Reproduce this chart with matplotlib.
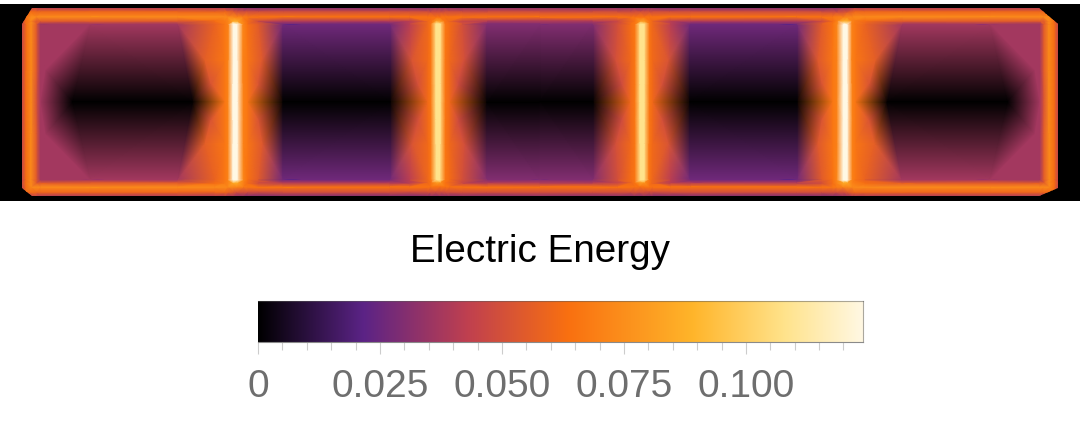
import matplotlib
matplotlib.use("Agg")
import matplotlib.pyplot as plt
import numpy as np
from matplotlib.colors import LinearSegmentedColormap
from matplotlib.patches import Polygon

plt.rcParams['font.family'] = ['Liberation Sans', 'DejaVu Sans']

# Field. The colours blend straight between mesh nodes,
# so the nodes are kept sparse, like in the original mesh.
# Only the top left quarter is listed, the rest is mirrored.

# rim nodes: one row per x position, one value per y in rim_y
rim_y = [8, 12, 17, 21, 24]
rim_x = [22, 26, 31, 36, 40, 90, 178, 215, 225, 228, 233, 237, 243, 247, 258, 283,
         390, 410, 428, 431, 436, 440, 445, 449, 462, 487, 540]
rim_v = [
    [.040, .042, .045, .045, .045],
    [.042, .060, .062, .062, .062],
    [.045, .062, .073, .073, .073],
    [.045, .060, .073, .055, .055],
    [.040, .060, .073, .055, .037],
    [.040, .060, .073, .055, .037],
    [.040, .060, .073, .055, .037],
    [.040, .060, .073, .062, .058],
    [.040, .060, .073, .068, .066],
    [.038, .058, .072, .070, .070],
    [.036, .054, .072, .085, .124],
    [.034, .050, .070, .085, .124],
    [.032, .050, .068, .070, .072],
    [.030, .050, .066, .062, .064],
    [.030, .050, .065, .048, .055],
    [.030, .050, .065, .040, .026],
    [.030, .050, .064, .040, .026],
    [.030, .050, .064, .042, .042],
    [.030, .050, .064, .060, .060],
    [.032, .050, .064, .064, .066],
    [.032, .050, .064, .078, .108],
    [.032, .050, .064, .078, .108],
    [.032, .050, .064, .064, .066],
    [.032, .050, .064, .060, .062],
    [.032, .050, .064, .046, .050],
    [.032, .050, .064, .040, .030],
    [.032, .050, .064, .040, .030],
]

# wall columns: same value all the way down, at each y in wall_y
wall_y = [60, 84, 102]
wall_x = [225, 228, 233, 237, 243, 247, 428, 431, 436, 440, 445, 449]
wall_v = [.066, .070, .124, .124, .070, .066, .061, .066, .108, .108, .066, .061]

# other nodes below the rim
inner_x = [22, 22, 26, 26, 31, 31, 36, 36, 40, 45, 40, 72,
           193, 205, 211, 262, 258, 283, 390, 412, 418, 464, 458, 487, 540]
inner_y = [70, 102, 70, 102, 70, 102, 70, 102, 70, 70, 102, 102,
           102, 60, 84, 60, 84, 102, 102, 60, 84, 60, 84, 102, 102]
inner_v = [.045, .045, .062, .062, .073, .073, .055, .052, .037, .037, .037, .000,
           .000, .056, .052, .054, .052, .000, .000, .052, .050, .050, .048, .000, .000]

outline_x = [32, 1039, 1058, 1058, 1039, 32, 22, 22]
outline_y = [8, 8, 24, 188, 196, 196, 188, 24]

# Colour scale
energy_max = 0.124
scale_values = [0, .0215, .043, .0635, .089, .108, .124]
scale_colors = ['#000000', '#5b2386', '#c0404f', '#f97010', '#ffb52a', '#ffe38c', '#fff8e4']
major_ticks = [0, .025, .05, .075, .1]
major_labels = ['0', '0.025', '0.050', '0.075', '0.100']
minor_ticks = np.arange(0, 0.1201, 0.005)

cmap = LinearSegmentedColormap.from_list(
    'energy', [(v / energy_max, c) for v, c in zip(scale_values, scale_colors)], N=512)

# Mirror the quarter into the whole field
xq = np.array([x for x in rim_x for _ in rim_y] + [x for x in wall_x for _ in wall_y] + inner_x, dtype=float)
yq = np.array(rim_y * len(rim_x) + wall_y * len(wall_x) + inner_y, dtype=float)
vq = np.concatenate([np.array(rim_v).ravel(), np.repeat(wall_v, len(wall_y)), inner_v])

xs = np.concatenate([xq, 1080 - xq, xq, 1080 - xq])
ys = np.concatenate([yq, yq, 204 - yq, 204 - yq])
vs = np.concatenate([vq, vq, vq, vq])
_, keep = np.unique(np.column_stack([xs, ys]), axis=0, return_index=True)
xs, ys, vs = xs[keep], ys[keep], vs[keep]

W, H = 1080, 442
fig = plt.figure(figsize=(W / 100, H / 100), dpi=100)

ax = fig.add_axes([0, 1 - 201 / H, 1, 197 / H])
ax.set_facecolor('black')
ax.set_xlim(0, 1080)
ax.set_ylim(201, 4)
ax.set_xticks([])
ax.set_yticks([])
for s in ax.spines.values():
    s.set_visible(False)

field = ax.tripcolor(xs, ys, vs, shading='gouraud', cmap=cmap, vmin=0, vmax=energy_max)
outline = Polygon(np.column_stack([outline_x, outline_y]), closed=True,
                  transform=ax.transData, facecolor='none', edgecolor='none')
ax.add_patch(outline)
field.set_clip_path(outline)

# Colour bar
cax = fig.add_axes([258 / W, 1 - 342 / H, 605 / W, 41 / H])
gradient = np.linspace(0, energy_max, 512).reshape(1, -1)
cax.imshow(gradient, extent=[0, energy_max, 0, 1], aspect='auto', cmap=cmap,
           vmin=0, vmax=energy_max, interpolation='bilinear')
cax.set_xlim(0, energy_max)
cax.set_yticks([])
cax.set_xticks(major_ticks)
cax.set_xticklabels(major_labels, fontsize=28, color='#6e6e6e')
cax.set_xticks(minor_ticks, minor=True)
cax.tick_params(axis='x', which='major', length=8.6, width=0.8, color='#cccccc', pad=10.5)
cax.tick_params(axis='x', which='minor', length=5.5, width=0.8, color='#cccccc')
cax.spines['left'].set_visible(False)
cax.spines['top'].set_edgecolor((0.35, 0.35, 0.35, 0.5))
cax.spines['right'].set_edgecolor((0.35, 0.35, 0.35, 0.5))
cax.spines['bottom'].set_edgecolor('#8a8a8a')

fig.text(540 / W, 1 - 252 / H, 'Electric Energy', fontsize=27.8, color='black',
         ha='center', va='center')

fig.savefig('out.png', dpi=100, facecolor='white')
